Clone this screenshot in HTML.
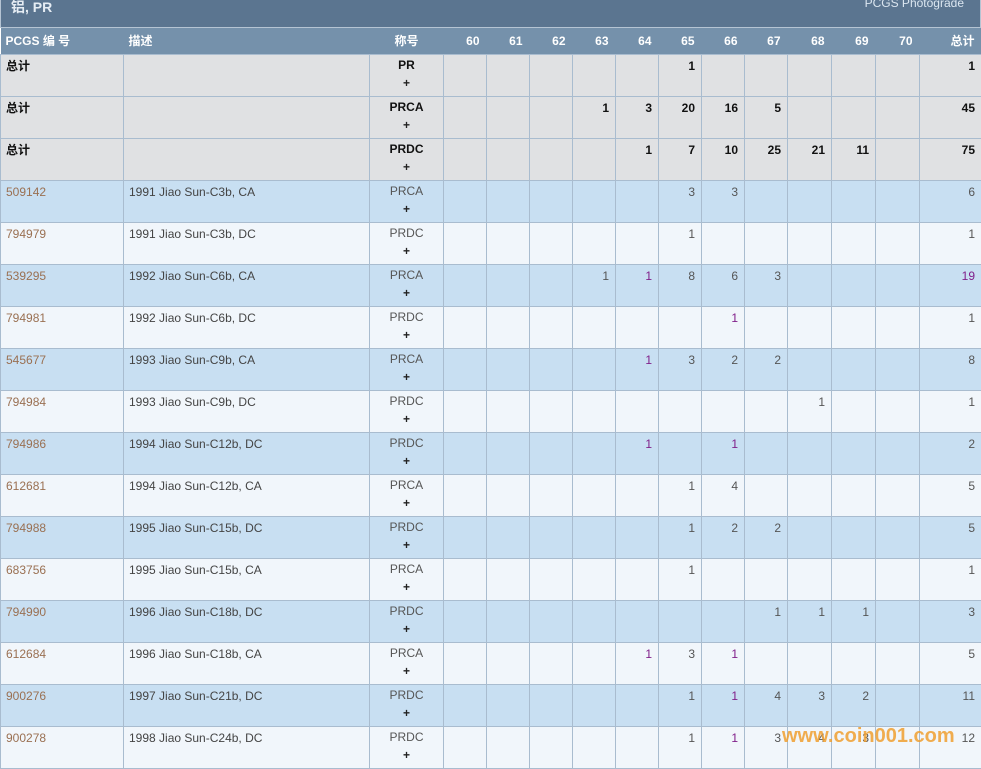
<!DOCTYPE html>
<html><head><meta charset="utf-8"><style>
*{margin:0;padding:0;box-sizing:border-box}
body{width:981px;height:765px;overflow:hidden;background:#fff;font-family:"Liberation Sans","Noto Sans CJK SC",sans-serif;font-size:12px;position:relative}
.title{position:absolute;left:0;top:0;width:981px;height:28px;background:#5b7590;border:1px solid #b5c4d3;border-top:none}
.title .l{position:absolute;left:10px;top:-3px;color:#e6edf4;font-weight:bold;font-size:14px}
.title .r{position:absolute;right:16px;top:-4px;color:#dbe6f0;font-size:12px}
table{position:absolute;left:0;top:28px;border-collapse:collapse;table-layout:fixed;width:981px}
th{background:#7591ab;color:#fff;font-weight:bold;height:26px;text-align:right;padding:0 7px 0 0;font-size:12px;border-bottom:1px solid #a9bccf}
th.l{text-align:left;padding-left:5px}
th.c{text-align:center;padding:0}
td{height:42px;border:1px solid #a9bccf;vertical-align:top;padding:3px 6px 0 5px;text-align:right;color:#555;line-height:16px}
td.c{text-align:center;padding:1px 0 0 0;line-height:18px}
td.c b{color:#222}
td.l{text-align:left}
tr.t td{background:#e0e1e3;font-weight:bold;color:#111}
tr.b td{background:#c8dff2}
tr.w td{background:#f1f6fb}
td.id{color:#9a7052!important}
td.d{color:#444}
.p{color:#80208a}
.wm{position:absolute;left:782px;top:725px;color:#f0a030;font-size:20px;font-weight:bold;opacity:.85}
</style></head><body>
<div class="title"><span class="l">铝, PR</span><span class="r">PCGS Photograde</span></div>
<table>
<colgroup><col style="width:123px"><col style="width:246px"><col style="width:74px"><col style="width:43px"><col style="width:43px"><col style="width:43px"><col style="width:43px"><col style="width:43px"><col style="width:43px"><col style="width:43px"><col style="width:43px"><col style="width:44px"><col style="width:44px"><col style="width:44px"><col style="width:62px"></colgroup>
<tr><th class="l">PCGS 编 号</th><th class="l">描述</th><th class="c">称号</th><th>60</th><th>61</th><th>62</th><th>63</th><th>64</th><th>65</th><th>66</th><th>67</th><th>68</th><th>69</th><th>70</th><th>总计</th></tr>
<tr class="t"><td class="l">总计</td><td></td><td class="c">PR<br><b>+</b></td><td></td><td></td><td></td><td></td><td></td><td>1</td><td></td><td></td><td></td><td></td><td></td><td>1</td></tr>
<tr class="t"><td class="l">总计</td><td></td><td class="c">PRCA<br><b>+</b></td><td></td><td></td><td></td><td>1</td><td>3</td><td>20</td><td>16</td><td>5</td><td></td><td></td><td></td><td>45</td></tr>
<tr class="t"><td class="l">总计</td><td></td><td class="c">PRDC<br><b>+</b></td><td></td><td></td><td></td><td></td><td>1</td><td>7</td><td>10</td><td>25</td><td>21</td><td>11</td><td></td><td>75</td></tr>
<tr class="b"><td class="l id">509142</td><td class="l d">1991 Jiao Sun-C3b, CA</td><td class="c">PRCA<br><b>+</b></td><td></td><td></td><td></td><td></td><td></td><td>3</td><td>3</td><td></td><td></td><td></td><td></td><td>6</td></tr>
<tr class="w"><td class="l id">794979</td><td class="l d">1991 Jiao Sun-C3b, DC</td><td class="c">PRDC<br><b>+</b></td><td></td><td></td><td></td><td></td><td></td><td>1</td><td></td><td></td><td></td><td></td><td></td><td>1</td></tr>
<tr class="b"><td class="l id">539295</td><td class="l d">1992 Jiao Sun-C6b, CA</td><td class="c">PRCA<br><b>+</b></td><td></td><td></td><td></td><td>1</td><td class="p">1</td><td>8</td><td>6</td><td>3</td><td></td><td></td><td></td><td class="p">19</td></tr>
<tr class="w"><td class="l id">794981</td><td class="l d">1992 Jiao Sun-C6b, DC</td><td class="c">PRDC<br><b>+</b></td><td></td><td></td><td></td><td></td><td></td><td></td><td class="p">1</td><td></td><td></td><td></td><td></td><td>1</td></tr>
<tr class="b"><td class="l id">545677</td><td class="l d">1993 Jiao Sun-C9b, CA</td><td class="c">PRCA<br><b>+</b></td><td></td><td></td><td></td><td></td><td class="p">1</td><td>3</td><td>2</td><td>2</td><td></td><td></td><td></td><td>8</td></tr>
<tr class="w"><td class="l id">794984</td><td class="l d">1993 Jiao Sun-C9b, DC</td><td class="c">PRDC<br><b>+</b></td><td></td><td></td><td></td><td></td><td></td><td></td><td></td><td></td><td>1</td><td></td><td></td><td>1</td></tr>
<tr class="b"><td class="l id">794986</td><td class="l d">1994 Jiao Sun-C12b, DC</td><td class="c">PRDC<br><b>+</b></td><td></td><td></td><td></td><td></td><td class="p">1</td><td></td><td class="p">1</td><td></td><td></td><td></td><td></td><td>2</td></tr>
<tr class="w"><td class="l id">612681</td><td class="l d">1994 Jiao Sun-C12b, CA</td><td class="c">PRCA<br><b>+</b></td><td></td><td></td><td></td><td></td><td></td><td>1</td><td>4</td><td></td><td></td><td></td><td></td><td>5</td></tr>
<tr class="b"><td class="l id">794988</td><td class="l d">1995 Jiao Sun-C15b, DC</td><td class="c">PRDC<br><b>+</b></td><td></td><td></td><td></td><td></td><td></td><td>1</td><td>2</td><td>2</td><td></td><td></td><td></td><td>5</td></tr>
<tr class="w"><td class="l id">683756</td><td class="l d">1995 Jiao Sun-C15b, CA</td><td class="c">PRCA<br><b>+</b></td><td></td><td></td><td></td><td></td><td></td><td>1</td><td></td><td></td><td></td><td></td><td></td><td>1</td></tr>
<tr class="b"><td class="l id">794990</td><td class="l d">1996 Jiao Sun-C18b, DC</td><td class="c">PRDC<br><b>+</b></td><td></td><td></td><td></td><td></td><td></td><td></td><td></td><td>1</td><td>1</td><td>1</td><td></td><td>3</td></tr>
<tr class="w"><td class="l id">612684</td><td class="l d">1996 Jiao Sun-C18b, CA</td><td class="c">PRCA<br><b>+</b></td><td></td><td></td><td></td><td></td><td class="p">1</td><td>3</td><td class="p">1</td><td></td><td></td><td></td><td></td><td>5</td></tr>
<tr class="b"><td class="l id">900276</td><td class="l d">1997 Jiao Sun-C21b, DC</td><td class="c">PRDC<br><b>+</b></td><td></td><td></td><td></td><td></td><td></td><td>1</td><td class="p">1</td><td>4</td><td>3</td><td>2</td><td></td><td>11</td></tr>
<tr class="w"><td class="l id">900278</td><td class="l d">1998 Jiao Sun-C24b, DC</td><td class="c">PRDC<br><b>+</b></td><td></td><td></td><td></td><td></td><td></td><td>1</td><td class="p">1</td><td>3</td><td>4</td><td>3</td><td></td><td>12</td></tr>
</table>
<div class="wm">www.coin001.com</div>
</body></html>
